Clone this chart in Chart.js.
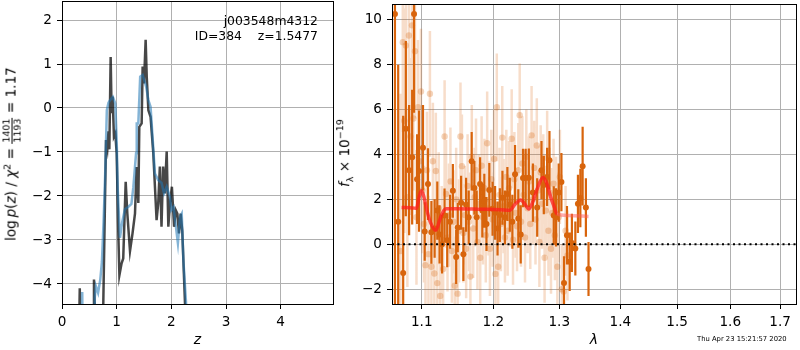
<!DOCTYPE html>
<html>
<head>
<meta charset="utf-8">
<script src="https://cdn.jsdelivr.net/npm/chart.js@4.4.1/dist/chart.umd.min.js"></script>
<style>
  body { margin: 0; width: 800px; height: 350px; background: #fff; position: relative; overflow: hidden; font-family: "DejaVu Sans", sans-serif; }
  canvas { position: absolute; top: 0; }
  #left { left: 0; }
  #right { left: 336px; }
  .lab { position: absolute; white-space: nowrap; color: #000; font-size: 13.6px; line-height: 1; z-index: 2; }
  .rot { transform: translate(-50%, -50%) rotate(-90deg); }
  .lab sup, .lab sub { font-size: 70%; line-height: 0; }
  .frac { display: inline-block; vertical-align: middle; text-align: center; font-size: 9.5px; line-height: 1.05; }
  .frac span { display: block; padding: 0 1px; }
  .frac .num { border-bottom: 1px solid #000; }
</style>
</head>
<body>
<canvas id="left" width="336" height="350"></canvas>
<canvas id="right" width="464" height="350"></canvas>

<div class="lab rot" style="left:12px; top:154px;">log&thinsp;<i>p</i>(<i>z</i>) / <i>χ</i><sup>2</sup> = <span class="frac"><span class="num">1401</span><span>1193</span></span> = 1.17</div>
<div class="lab rot" style="left:345px; top:153px;"><i>f</i><sub>λ</sub> × 10<sup>−19</sup></div>
<div class="lab" style="right:482px; top:13px; font-size:12.4px; text-align:right; line-height:15px; white-space:pre;">j003548m4312
ID=384    z=1.5477</div>
<div class="lab" style="left:697px; top:336px; font-size:6.8px;">Thu Apr 23 15:21:57 2020</div>

<script>
// left panel: log p(z)
const zTicks = [0, 1, 2, 3, 4];
const logpTicks = [-4, -3, -2, -1, 0, 1, 2];

const zDark = [0.30, 0.325, 0.34, 0.57, 0.585, 0.60, 0.63, 0.72, 0.745, 0.805, 0.83, 0.85, 0.866, 0.89, 0.908, 0.926, 0.95, 0.975,
  1.0, 1.03, 1.05, 1.09, 1.12, 1.165, 1.195, 1.244, 1.29, 1.335, 1.365, 1.396, 1.414, 1.457, 1.475, 1.5, 1.53, 1.55, 1.58, 1.62,
  1.67, 1.70, 1.73, 1.76, 1.79, 1.82, 1.85, 1.88, 1.915, 1.945, 1.975, 2.01, 2.05, 2.08, 2.11, 2.14, 2.17, 2.2, 2.25, 2.28];
const logpDark = [-6, -4.1, -6, -6, -3.9, -4.6, -6, -6, -5.2, -0.73, -0.92, -0.53, -0.94, 1.16, -0.12, 0.26, -0.65, -0.58,
  -1.03, -2.85, -3.8, -3.53, -3.42, -1.68, -2.4, -3.25, -2.85, -2.4, -1.34, -2.16, -0.43, -0.35, 0.94, 0.56, 1.55, 0.71, -0.05, -0.2,
  -1.03, -1.79, -2.55, -2.17, -1.33, -2.7, -1.33, -1.94, -0.99, -2.7, -2.17, -1.79, -2.7, -2.32, -2.4, -2.85, -2.4, -2.8, -4.45, -6];

const zSmooth = [0.35, 0.37, 0.385, 0.58, 0.60, 0.62, 0.66, 0.70, 0.73, 0.76, 0.79, 0.82, 0.85, 0.88, 0.93, 0.975, 1.0, 1.02, 1.06,
  1.10, 1.15, 1.21, 1.27, 1.305, 1.355, 1.367, 1.396, 1.43, 1.475, 1.54, 1.58, 1.62, 1.66, 1.70, 1.76, 1.82, 1.866, 1.915, 1.975,
  2.0, 2.04, 2.12, 2.16, 2.19, 2.22, 2.27, 2.30];
const logpSmooth = [-6, -4.18, -6, -6, -4.3, -4.05, -4.2, -3.9, -3.5, -2.6, -1.5, -0.05, 0.12, 0.18, 0.25, 0.1, -0.73, -1.86, -2.95,
  -2.6, -2.3, -2.25, -2.18, -1.8, -1.03, -0.35, -0.35, 0.71, 0.75, 0.48, 0.18, 0.03, -0.73, -1.49, -1.64, -1.7, -1.94, -1.79, -2.02,
  -2.32, -2.25, -3.07, -2.47, -2.4, -3.45, -4.45, -6];

// right panel: spectrum
const lamTicks = [1.1, 1.2, 1.3, 1.4, 1.5, 1.6, 1.7];
const fluxTicks = [-2, 0, 2, 4, 6, 8, 10];

const lamLight = [1.072, 1.075, 1.077, 1.079, 1.081, 1.083, 1.085, 1.087, 1.089, 1.091, 1.093, 1.095, 1.097, 1.099,
  1.101, 1.103, 1.105, 1.107, 1.109, 1.111, 1.113, 1.115, 1.117, 1.119, 1.121, 1.123, 1.125, 1.127, 1.129, 1.131, 1.133, 1.135,
  1.137, 1.139, 1.141, 1.143, 1.145, 1.147, 1.149, 1.151, 1.153, 1.155, 1.157, 1.159, 1.161, 1.163, 1.165, 1.167, 1.169, 1.171,
  1.173, 1.175, 1.177, 1.179, 1.181, 1.183, 1.185, 1.187, 1.189, 1.191, 1.193, 1.195, 1.197, 1.199, 1.201, 1.203, 1.205, 1.207,
  1.209, 1.211, 1.213, 1.215, 1.217, 1.219, 1.221, 1.223, 1.225, 1.227, 1.229, 1.231, 1.233, 1.235, 1.237, 1.239, 1.241, 1.243,
  1.245, 1.247, 1.249, 1.251, 1.253, 1.255, 1.257, 1.259, 1.261, 1.263, 1.265, 1.267, 1.269, 1.271, 1.273, 1.275, 1.277, 1.279,
  1.281, 1.283, 1.285, 1.287, 1.289, 1.291, 1.293, 1.295, 1.297, 1.299, 1.301, 1.304, 1.307, 1.310, 1.313];
const fluxLight = [-0.3, 9.0, 5.5, 8.85, 2.1, 9.3, 4.8, 9.75, 5.6, 8.6, 1.2, 6.1, 3.7, 6.8,
  2.4, 0.9, -0.93, 3.3, -0.44, 6.7, -1.0, 3.7, -1.3, 3.26, -1.73, 1.6, -2.3, 0.2, -1.1, 4.8, 2.24, 0.3,
  1.3, 2.8, -0.3, 1.0, -1.85, 2.0, -2.2, 0.6, 4.8, 3.48, 0.5, 1.3, -0.2, 2.6, 1.0, -1.44, 3.9, 0.7,
  2.1, 3.3, 0.1, 1.8, -0.6, 3.5, 1.2, 2.5, 0.4, 4.5, 1.6, -0.2, 2.9, 1.1, 3.8, -1.32, 6.1, -1.0,
  2.2, 0.9, 4.75, 1.7, 0.3, 3.0, 0.6, 2.5, 1.9, 4.7, 0.2, 2.9, 1.4, 0.8, 3.3, 5.75, 1.0, 3.6,
  2.2, 0.3, 3.9, 1.6, 2.8, 0.9, 4.85, 2.0, 3.4, 1.1, 4.4, 2.4, 0.1, 3.2, 1.8, 2.9, -0.6, 1.5,
  3.85, 0.6, 2.3, -0.2, 1.4, 2.7, 0.4, 1.9, -1.0, 1.2, 3.0, -2.0, -2.1, 0.6, -0.5];
const errLight = [7, 4, 5, 4, 4, 3.5, 3.5, 3, 3.2, 3, 3, 3, 3, 2.8,
  2.8, 2.6, 2.6, 2.6, 2.6, 2.8, 2.5, 2.6, 2.4, 2.6, 2.4, 2.5, 2.4, 2.4, 2.4, 2.5, 2.4, 2.4,
  2.3, 2.4, 2.3, 2.3, 2.2, 2.3, 2.2, 2.3, 2.4, 2.3, 2.2, 2.2, 2.2, 2.3, 2.2, 2.2, 2.3, 2.2,
  2.2, 2.3, 2.1, 2.2, 2.1, 2.2, 2.1, 2.2, 2.1, 2.3, 2.1, 2.1, 2.2, 2.1, 2.2, 2.1, 2.4, 2.1,
  2.1, 2.1, 2.3, 2.1, 2.0, 2.1, 2.0, 2.1, 2.0, 2.2, 2.0, 2.1, 2.0, 2.0, 2.1, 2.3, 2.0, 2.1,
  2.0, 2.0, 2.1, 2.0, 2.0, 2.0, 2.2, 2.0, 2.1, 2.0, 2.1, 2.0, 2.0, 2.1, 2.0, 2.0, 2.0, 2.0,
  2.1, 2.0, 2.0, 2.0, 2.0, 2.0, 2.0, 2.0, 2.0, 2.0, 2.1, 2.0, 2.0, 2.0, 2.0];

const lamDark = [1.0648, 1.069, 1.0755, 1.079, 1.0833, 1.0873, 1.0898, 1.0938, 1.0964, 1.1017, 1.104, 1.1084, 1.113, 1.1174,
  1.121, 1.1241, 1.1275, 1.1309, 1.1346, 1.1385, 1.1424, 1.147, 1.1492, 1.1539, 1.1571, 1.1609, 1.1646, 1.1688, 1.1726, 1.1759,
  1.1808, 1.184, 1.1869, 1.190, 1.1941, 1.1988, 1.2025, 1.2061, 1.2095, 1.2133, 1.217, 1.2206, 1.2242, 1.228, 1.232, 1.2369,
  1.2405, 1.244, 1.248, 1.2528, 1.259, 1.2656, 1.2722, 1.2758, 1.2809, 1.2846, 1.2913, 1.2949, 1.2991, 1.3034, 1.3075, 1.3122,
  1.3165, 1.3201, 1.3256, 1.3298, 1.3337, 1.3374, 1.3427, 1.347];
const fluxDark = [10.26, 1.0, -1.28, 5.15, 3.3, 3.88, 10.26, 2.9, 3.26, 4.3, 0.57, 2.68, 0.53, 0.7,
  1.5, 0.44, 0.0, 1.28, 0.18, 1.0, 2.38, -0.57, 0.75, 1.85, -0.44, 1.76, 1.2, 3.7, 2.51, 1.2,
  2.68, 1.5, 1.94, 0.9, 2.42, 1.58, 1.4, 0.7, 1.3, 2.07, 1.2, 2.24, 1.76, 1.0, 3.12, 1.15,
  0.44, 2.95, 2.95, 2.96, 2.3, 1.64, 3.3, 2.64, 3.0, 3.74, 1.28, 1.2, 2.3, 2.77, -1.73, 0.4,
  -0.78, 0.06, -0.19, 1.8, 2.06, 3.48, 1.64, -1.1];
const errDark = [13, 7, 7, 3.9, 2.9, 3.0, 4.4, 2.0, 2.7, 1.9, 1.3, 1.6, 1.4, 1.3,
  1.3, 1.3, 1.3, 1.2, 1.2, 1.2, 1.2, 1.2, 1.1, 1.2, 1.2, 1.2, 1.2, 1.3, 1.2, 1.2,
  1.2, 1.2, 1.2, 1.2, 1.2, 1.2, 1.2, 1.2, 1.2, 1.2, 1.2, 1.2, 1.2, 1.2, 1.3, 1.3,
  1.3, 1.3, 1.3, 1.3, 1.3, 1.3, 1.3, 1.3, 1.3, 1.3, 1.3, 1.3, 1.3, 1.3, 1.2, 1.3,
  1.3, 1.3, 1.2, 1.3, 1.3, 1.75, 1.3, 1.2];

const lamModel = [1.0734, 1.088, 1.093, 1.0965, 1.0996, 1.103, 1.107, 1.112, 1.119, 1.1245, 1.129, 1.1332, 1.15, 1.18, 1.21,
  1.2246, 1.232, 1.2405, 1.247, 1.2528, 1.259, 1.266, 1.2745, 1.2805, 1.2865, 1.2913, 1.2965, 1.3146, 1.347];
const fluxModel = [1.64, 1.62, 1.6, 2.1, 2.38, 2.1, 1.5, 0.95, 0.62, 1.1, 1.45, 1.58, 1.58, 1.56, 1.54,
  1.52, 1.78, 1.97, 1.78, 1.57, 1.9, 2.5, 2.97, 2.7, 2.1, 1.72, 1.35, 1.28, 1.24];

const orange = '#d8640c';
const fontFam = '"DejaVu Sans", sans-serif';
Chart.defaults.font.family = fontFam;

function pairs(xs, ys) {
  return xs.map((x, i) => ({ x: x, y: ys[i] }));
}

// two points per bar, then a gap so the line breaks
function errorSegments(xs, ys, es) {
  const out = [];
  xs.forEach((x, i) => {
    out.push({ x: x, y: ys[i] - es[i] }, { x: x, y: ys[i] + es[i] }, { x: x, y: null });
  });
  return out;
}

function minus(v) {
  return String(v).replace('-', '\u2212');
}

// box around the plot area, like matplotlib spines
const frame = {
  id: 'frame',
  afterDraw(chart) {
    const a = chart.chartArea;
    const ctx = chart.ctx;
    ctx.save();
    ctx.strokeStyle = '#000';
    ctx.lineWidth = 1;
    ctx.strokeRect(Math.round(a.left) + 0.5, Math.round(a.top) + 0.5, Math.round(a.right - a.left), Math.round(a.bottom - a.top));
    ctx.restore();
  }
};

const tickFont = { size: 13.6, family: fontFam };
const gridOpts = { color: '#b0b0b0', lineWidth: 1, tickColor: '#000', tickLength: 5, tickWidth: 1 };

function xAxis(type, min, max, tickVals, label, fmt) {
  return {
    type: type, min: min, max: max,
    afterBuildTicks: s => { s.ticks = tickVals.map(v => ({ value: v })); },
    afterFit: s => { s.height = 46; s.paddingLeft = 0; s.paddingRight = 0; },
    ticks: { font: tickFont, color: '#000', padding: 5, maxRotation: 0, autoSkip: false, callback: fmt },
    grid: gridOpts,
    border: { display: false },
    title: { display: true, text: label, color: '#000', font: { size: 14, style: 'italic', family: fontFam }, padding: { top: 0, bottom: 1 } }
  };
}

function yAxis(min, max, tickVals, width) {
  return {
    type: 'linear', min: min, max: max,
    afterBuildTicks: s => { s.ticks = tickVals.map(v => ({ value: v })); },
    afterFit: s => { s.width = width; s.paddingTop = 0; s.paddingBottom = 0; },
    ticks: { font: tickFont, color: '#000', padding: 5, autoSkip: false, callback: v => minus(v) },
    grid: gridOpts,
    border: { display: false }
  };
}

new Chart(document.getElementById('left'), {
  type: 'line',
  data: {
    datasets: [
      { data: pairs(zSmooth, logpSmooth), borderColor: 'rgba(31,119,180,0.55)', borderWidth: 2.5, pointRadius: 0, tension: 0, order: 0, clip: 0 },
      { data: pairs(zDark, logpDark), borderColor: 'rgba(0,0,0,0.72)', borderWidth: 2.5, pointRadius: 0, tension: 0, order: 1, clip: 0 }
    ]
  },
  options: {
    responsive: false, animation: false, devicePixelRatio: 1,
    layout: { padding: { left: 0, right: 3, top: 1, bottom: 0 } },
    plugins: { legend: { display: false }, tooltip: { enabled: false } },
    scales: {
      x: xAxis('linear', 0, 4.957, zTicks, 'z', v => minus(v)),
      y: yAxis(-4.455, 2.432, logpTicks, 62)
    }
  },
  plugins: [frame]
});

new Chart(document.getElementById('right'), {
  type: 'line',
  data: {
    datasets: [
      { data: pairs([1.061, 1.733], [0, 0]), borderColor: '#000', borderWidth: 2, borderDash: [2, 3.5], pointRadius: 0, order: 0, clip: 0 },
      {
        data: pairs(lamModel, fluxModel), borderWidth: 3.5, pointRadius: 0, cubicInterpolationMode: 'monotone', order: 1, clip: 0,
        borderColor: 'rgba(255,30,30,0.75)',
        segment: { borderColor: c => c.p0.parsed.x >= 1.2965 ? 'rgba(255,90,90,0.5)' : 'rgba(255,30,30,0.75)' }
      },
      { data: pairs(lamDark, fluxDark), showLine: false, pointRadius: 3, pointBackgroundColor: orange, pointBorderWidth: 0, order: 2, clip: 0 },
      { data: errorSegments(lamDark, fluxDark, errDark), borderColor: orange, borderWidth: 2.2, pointRadius: 0, spanGaps: false, order: 3, clip: 0 },
      { data: pairs(lamLight, fluxLight), showLine: false, pointRadius: 3.2, pointBackgroundColor: 'rgba(217,100,12,0.28)', pointBorderWidth: 0, order: 4, clip: 0 },
      { data: errorSegments(lamLight, fluxLight, errLight), borderColor: 'rgba(217,100,12,0.22)', borderWidth: 2.5, pointRadius: 0, spanGaps: false, order: 5, clip: 0 }
    ]
  },
  options: {
    responsive: false, animation: false, devicePixelRatio: 1,
    layout: { padding: { left: 0, right: 1, top: 1, bottom: 0 } },
    plugins: { legend: { display: false }, tooltip: { enabled: false } },
    scales: {
      x: xAxis('logarithmic', 1.061, 1.733, lamTicks, 'λ', v => Number(v).toFixed(1)),
      y: yAxis(-2.66, 10.7, fluxTicks, 56)
    }
  },
  plugins: [frame]
});
</script>
</body>
</html>
